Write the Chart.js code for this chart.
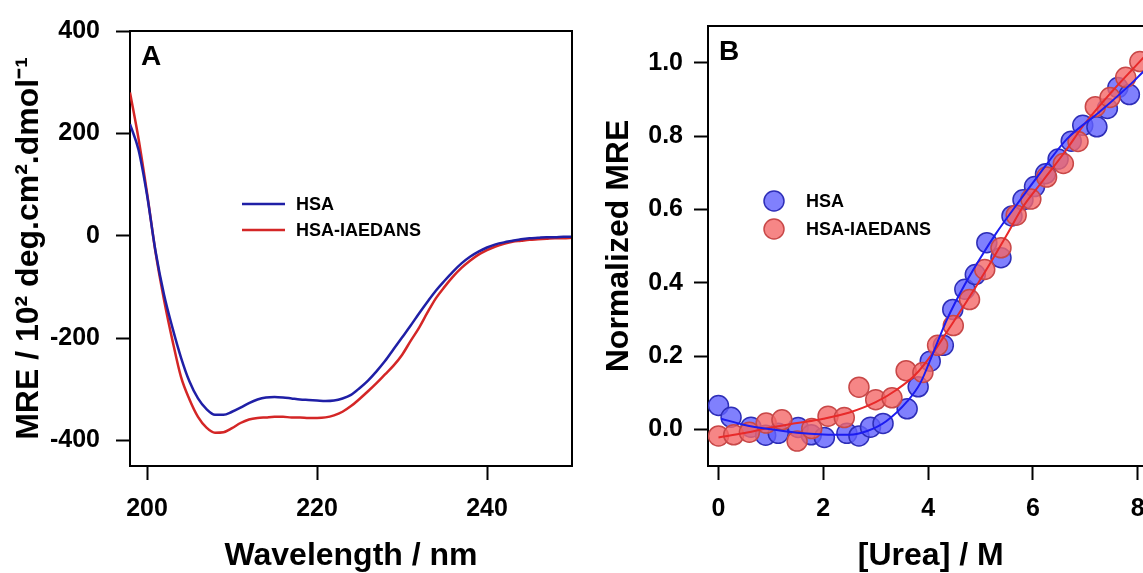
<!DOCTYPE html>
<html>
<head>
<meta charset="utf-8">
<script src="https://cdn.jsdelivr.net/npm/chart.js@4.4.1/dist/chart.umd.min.js"></script>
<style>
  html, body { margin: 0; padding: 0; background: #fff; overflow: hidden; width: 1143px; height: 573px; }
  canvas { position: absolute; top: 0; }
  #chartA { left: 0; }
  #chartB { left: 590px; }
</style>
</head>
<body>
<canvas id="chartA" width="590" height="573"></canvas>
<canvas id="chartB" width="575" height="573"></canvas>
<script>
// PANEL A - CD spectra

const wavelengths = [198, 199, 200, 201, 202, 203, 204, 205, 206, 207, 208, 209, 210, 211, 212, 213, 214,
  215, 216, 217, 218, 219, 220, 221, 222, 223, 224, 225, 226, 227, 228, 229, 230, 231, 232, 233, 234,
  235, 236, 237, 238, 239, 240, 241, 242, 243, 244, 245, 246, 247, 248, 249, 250];
const hsaMre = [218, 168, 80, -30, -115, -180, -238, -285, -318, -339, -350, -350, -344, -336, -327, -320, -316,
  -315, -316, -318, -320, -321, -322, -323, -322, -318, -311, -298, -283, -265, -245, -222, -199, -176, -152, -129, -107,
  -88, -70, -54, -41, -31, -23, -17, -13, -10, -7, -5, -4, -3, -3, -2, -2];
const iaedansMre = [280, 190, 84, -32, -125, -205, -276, -320, -354, -375, -385, -384, -376, -366, -359, -356, -355,
  -354, -354, -355, -355, -356, -356, -355, -351, -344, -333, -319, -304, -288, -271, -254, -233, -206, -180, -150, -122,
  -100, -80, -63, -49, -37, -28, -21, -16, -12, -10, -8, -7, -6, -5, -5, -4];
const xTicksA = [200, 220, 240];
const yTicksA = [-400, -200, 0, 200, 400];

// PANEL B - urea denaturation

const ureaHsa = [0, 0.24, 0.62, 0.9, 1.14, 1.52, 1.77, 2.02, 2.45, 2.68, 2.9, 3.14, 3.6, 3.81, 4.04, 4.29,
  4.47, 4.7, 4.9, 5.12, 5.39, 5.6, 5.81, 6.03, 6.24, 6.48, 6.73, 6.95, 7.22, 7.42, 7.62, 7.84];
const normHsa = [0.065, 0.033, 0.006, -0.016, -0.011, 0.005, -0.015, -0.022, -0.011, -0.018, 0.006, 0.016, 0.056, 0.116, 0.186, 0.229,
  0.327, 0.382, 0.422, 0.509, 0.468, 0.582, 0.626, 0.662, 0.697, 0.737, 0.786, 0.829, 0.825, 0.875, 0.932, 0.913];
const ureaIaedans = [0, 0.29, 0.59, 0.91, 1.21, 1.5, 1.78, 2.09, 2.4, 2.68, 3.0, 3.31, 3.58, 3.9, 4.18, 4.48,
  4.79, 5.08, 5.39, 5.68, 5.96, 6.26, 6.58, 6.86, 7.19, 7.47, 7.77, 8.04];
const normIaedans = [-0.018, -0.015, -0.008, 0.017, 0.026, -0.032, 0.002, 0.036, 0.032, 0.115, 0.081, 0.086, 0.16, 0.155, 0.229, 0.283,
  0.354, 0.436, 0.495, 0.584, 0.628, 0.688, 0.725, 0.785, 0.88, 0.905, 0.96, 1.003];

// fitted curves
const fitUreaHsa = [0.05, 0.5, 1.0, 1.5, 2.0, 2.5, 2.85, 3.2, 3.6, 3.85, 4.1, 4.36, 4.7, 5.0, 5.3, 5.64, 6.08, 6.65, 7.29, 7.92, 8.11, 8.4];
const fitHsa = [0.029, 0.012, 0.0, -0.009, -0.014, -0.015, -0.004, 0.022, 0.076, 0.126, 0.21, 0.3, 0.395, 0.468, 0.535, 0.603, 0.688, 0.792, 0.868, 0.949, 0.976, 1.01];
const fitUreaIaedans = [0, 0.5, 1.0, 1.5, 2.0, 2.5, 3.0, 3.4, 3.75, 4.1, 4.4, 4.75, 5.13, 5.5, 5.8, 6.2, 6.6, 6.97, 7.5, 8.05, 8.4];
const fitIaedans = [-0.022, -0.01, 0.005, 0.017, 0.029, 0.046, 0.074, 0.108, 0.148, 0.21, 0.275, 0.352, 0.44, 0.53, 0.605, 0.68, 0.755, 0.83, 0.92, 1.005, 1.06];
const xTicksB = [0, 2, 4, 6, 8];
const yTicksB = [0, 0.2, 0.4, 0.6, 0.8, 1.0];

const FONT = '"Liberation Sans", Arial, sans-serif';
const BLUE_A = '#1f1fa6';
const RED_A = '#d42626';

Chart.defaults.font.family = FONT;
Chart.defaults.color = '#000';

function pairs(xs, ys) {
  return xs.map(function (x, i) {
    return { x: x, y: ys[i] };
  });
}

function axis(min, max, ticks, title, fmt, fit, padding) {
  return {
    type: 'linear',
    min: min,
    max: max,
    afterBuildTicks: function (s) {
      s.ticks = ticks.map(function (v) { return { value: v }; });
    },
    afterFit: function (s) {
      if (s.isHorizontal()) s.height = fit;
      else s.width = fit;
    },
    grid: { drawOnChartArea: false, tickLength: 14, tickWidth: 2, tickColor: '#000' },
    border: { color: '#000', width: 2 },
    ticks: {
      color: '#000',
      padding: padding,
      font: { size: 25, weight: 'bold' },
      callback: fmt
    },
    title: {
      display: true,
      text: title,
      color: '#000',
      font: { size: 32, weight: 'bold', lineHeight: 1.05 },
      padding: { top: 12, bottom: 0 }
    }
  };
}

// box, panel letter and legend
const frame = {
  id: 'frame',
  afterDraw: function (chart, args, opts) {
    const ctx = chart.ctx;
    const a = chart.chartArea;
    ctx.save();
    ctx.strokeStyle = '#000';
    ctx.lineWidth = 2;
    ctx.beginPath();
    ctx.moveTo(a.left, a.top);
    ctx.lineTo(a.right, a.top);
    ctx.lineTo(a.right, a.bottom);
    ctx.stroke();

    ctx.fillStyle = '#000';
    ctx.font = 'bold 28px ' + FONT;
    ctx.textBaseline = 'alphabetic';
    ctx.fillText(opts.letter, a.left + 11, a.top + 34);

    ctx.font = 'bold 18px ' + FONT;
    ctx.textBaseline = 'middle';
    opts.items.forEach(function (it, i) {
      const ds = chart.data.datasets[it.dataset];
      const y = opts.y + i * opts.gap;
      if (opts.marker === 'line') {
        ctx.strokeStyle = ds.borderColor;
        ctx.lineWidth = 2.5;
        ctx.beginPath();
        ctx.moveTo(opts.x, y);
        ctx.lineTo(opts.x + 43, y);
        ctx.stroke();
      } else {
        ctx.fillStyle = ds.backgroundColor;
        ctx.strokeStyle = ds.borderColor;
        ctx.lineWidth = 1.5;
        ctx.beginPath();
        ctx.arc(opts.x, y, 10, 0, Math.PI * 2);
        ctx.fill();
        ctx.stroke();
      }
      ctx.fillStyle = '#000';
      ctx.fillText(ds.label, opts.textX, y + 1);
    });
    ctx.restore();
  }
};

new Chart(document.getElementById('chartA'), {
  type: 'line',
  data: {
    datasets: [
      {
        label: 'HSA',
        data: pairs(wavelengths, hsaMre),
        borderColor: BLUE_A,
        borderWidth: 2.5,
        pointRadius: 0,
        cubicInterpolationMode: 'monotone'
      },
      {
        label: 'HSA-IAEDANS',
        data: pairs(wavelengths, iaedansMre),
        borderColor: RED_A,
        borderWidth: 2.5,
        pointRadius: 0,
        cubicInterpolationMode: 'monotone'
      }
    ]
  },
  options: {
    responsive: false,
    animation: false,
    events: [],
    layout: { padding: { top: 23, right: 18, bottom: 0, left: 0 } },
    scales: {
      x: axis(198, 250, xTicksA, 'Wavelength / nm', function (v) { return String(v); }, 107, 14),
      y: axis(-450, 400, yTicksA, 'MRE / 10\u00b2 deg.cm\u00b2.dmol\u207b\u00b9', function (v) { return String(v); }, 130, 16)
    },
    plugins: {
      legend: { display: false },
      tooltip: { enabled: false },
      frame: {
        letter: 'A',
        marker: 'line',
        x: 242, y: 204, gap: 26, textX: 296,
        items: [{ dataset: 0 }, { dataset: 1 }]
      }
    }
  },
  plugins: [frame]
});

new Chart(document.getElementById('chartB'), {
  type: 'scatter',
  data: {
    datasets: [
      {
        label: 'HSA fit',
        data: pairs(fitUreaHsa, fitHsa),
        showLine: true,
        borderColor: '#1c1cf0',
        borderWidth: 2,
        pointRadius: 0,
        cubicInterpolationMode: 'monotone'
      },
      {
        label: 'HSA-IAEDANS fit',
        data: pairs(fitUreaIaedans, fitIaedans),
        showLine: true,
        borderColor: '#e82a2a',
        borderWidth: 2,
        pointRadius: 0,
        cubicInterpolationMode: 'monotone'
      },
      {
        label: 'HSA-IAEDANS',
        data: pairs(ureaIaedans, normIaedans),
        backgroundColor: 'rgba(244, 104, 104, 0.8)',
        borderColor: '#c84848',
        borderWidth: 1.5,
        pointRadius: 10
      },
      {
        label: 'HSA',
        data: pairs(ureaHsa, normHsa),
        backgroundColor: 'rgba(96, 96, 252, 0.8)',
        borderColor: '#2e2eb8',
        borderWidth: 1.5,
        pointRadius: 10
      }
    ]
  },
  options: {
    responsive: false,
    animation: false,
    events: [],
    layout: { padding: { top: 23, right: 10, bottom: 0, left: 0 } },
    scales: {
      x: axis(-0.2, 8.3, xTicksB, '[Urea] / M', function (v) { return String(v); }, 107, 14),
      y: axis(-0.1, 1.1, yTicksB, 'Normalized MRE', function (v) { return v.toFixed(1); }, 118, 11)
    },
    plugins: {
      legend: { display: false },
      tooltip: { enabled: false },
      frame: {
        letter: 'B',
        marker: 'circle',
        x: 184, y: 201, gap: 28, textX: 216,
        items: [{ dataset: 3 }, { dataset: 2 }]
      }
    }
  },
  plugins: [frame]
});
</script>
</body>
</html>
